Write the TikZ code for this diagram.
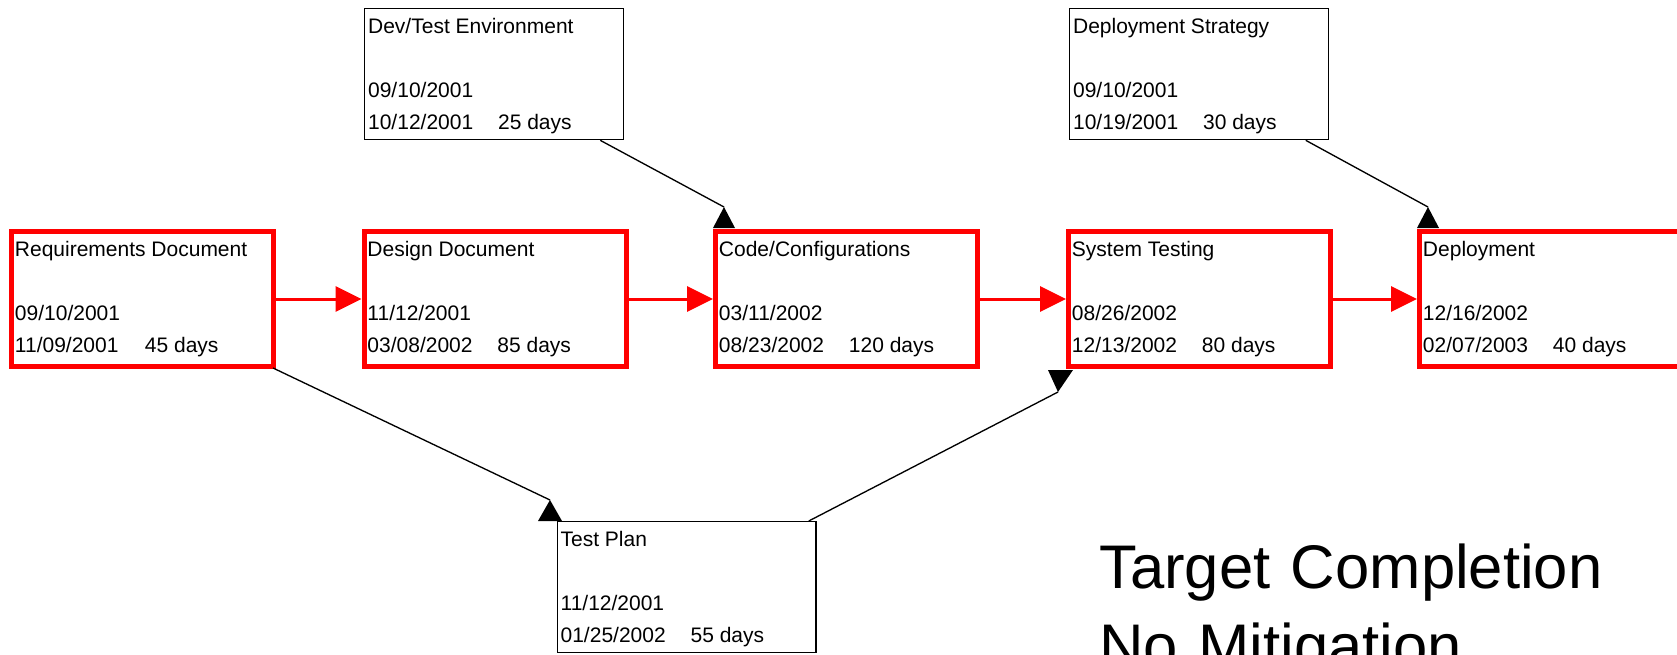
\documentclass[tikz,border=0pt]{standalone}
\usepackage{fontspec}
\setmainfont{Liberation Sans}
\usepackage{tikz}
\usetikzlibrary{positioning,arrows.meta,calc}
\definecolor{PathRed}{HTML}{FF0000}
\definecolor{InkBlack}{HTML}{000000}

\newcommand{\cardfont}{\fontsize{15.75}{24}\selectfont}
\newcommand{\cardtext}[4]{\rule{0pt}{18.75pt}#1\\[24pt]#2\\\makebox[97.5pt][l]{#3}#4}
\newcommand{\critcard}[4]{\parbox[c][101.25pt][t]{191.3pt}{\cardtext{#1}{#2}{#3}{#4}}}
\newcommand{\sidecard}[4]{\parbox[c][98.25pt][t]{189pt}{\cardtext{#1}{#2}{#3}{#4}}}

\tikzset{
  critbox/.style={draw=PathRed, line width=3.75pt, anchor=north west,
                  inner xsep=2.6pt, inner ysep=0pt, font=\cardfont},
  sidebox/.style={draw=InkBlack, line width=1pt, anchor=north west,
                  inner xsep=2.6pt, inner ysep=0pt, font=\cardfont},
  critflow/.style={draw=PathRed, line width=2.25pt,
                   -{Triangle[length=19.5pt,width=18.75pt]}},
  link/.style={draw=InkBlack, line width=1pt},
  linkhead/.style={fill=InkBlack},
}

\begin{document}
\begin{tikzpicture}[x=0.75pt,y=-0.75pt]
  \useasboundingbox (0,0) rectangle (1677,654);
  \clip (0,0) rectangle (1677,654);

  % critical path
  \node[critbox] (req) at (9,229)
    {\critcard{Requirements Document}{09/10/2001}{11/09/2001}{45 days}};
  \node[critbox] (design) at (361.5,229)
    {\critcard{Design Document}{11/12/2001}{03/08/2002}{85 days}};
  \node[critbox] (code) at (713,229)
    {\critcard{Code/Configurations}{03/11/2002}{08/23/2002}{120 days}};
  \node[critbox] (systest) at (1066,229)
    {\critcard{System Testing}{08/26/2002}{12/13/2002}{80 days}};
  \node[critbox] (deploy) at (1417,229)
    {\critcard{Deployment}{12/16/2002}{02/07/2003}{40 days}};

  % side tasks
  \node[sidebox] (devenv) at (364,8)
    {\sidecard{Dev/Test Environment}{09/10/2001}{10/12/2001}{25 days}};
  \node[sidebox] (strategy) at (1069,8)
    {\sidecard{Deployment Strategy}{09/10/2001}{10/19/2001}{30 days}};
  \node[sidebox] (testplan) at (556.5,521)
    {\sidecard{Test Plan}{11/12/2001}{01/25/2002}{55 days}};

  \draw[critflow] (req.east) -- (design.west);
  \draw[critflow] (design.east) -- (code.west);
  \draw[critflow] (code.east) -- (systest.west);
  \draw[critflow] (systest.east) -- (deploy.west);

  % dependency links, heads sit on the box edge
  \coordinate (codeIn) at ([shift={(11,-22)}]code.north west);
  \coordinate (deployIn) at ([shift={(11,-22)}]deploy.north west);
  \coordinate (planIn) at ([shift={(-6.5,-21)}]testplan.north west);
  \coordinate (sysIn) at ([shift={(-8,23)}]systest.south west);

  \draw[link] ([shift={(-24,0)}]devenv.south east) -- (codeIn);
  \fill[linkhead] (codeIn) -- ([shift={(0,-1)}]code.north west)
    -- ([shift={(22,-1)}]code.north west) -- cycle;
  \draw[link] ([shift={(-23.5,0)}]strategy.south east) -- (deployIn);
  \fill[linkhead] (deployIn) -- ([shift={(0,-1)}]deploy.north west)
    -- ([shift={(22,-1)}]deploy.north west) -- cycle;
  \draw[link] ([shift={(-3,-1)}]req.south east) -- (planIn);
  \fill[linkhead] (planIn) -- ([shift={(-18.5,0)}]testplan.north west)
    -- ([shift={(5.5,0)}]testplan.north west) -- cycle;
  \draw[link] ([shift={(-8,0)}]testplan.north east) -- (sysIn);
  \fill[linkhead] (sysIn) -- ([shift={(-18,1)}]systest.south west)
    -- ([shift={(7,1)}]systest.south west) -- cycle;

  \node[anchor=base west, text width=20cm, align=left, inner sep=0pt,
        font=\fontsize{46.2}{59.25}\selectfont] (target) at (1099,588)
    {Target Completion\\No Mitigation};
\end{tikzpicture}
\end{document}
